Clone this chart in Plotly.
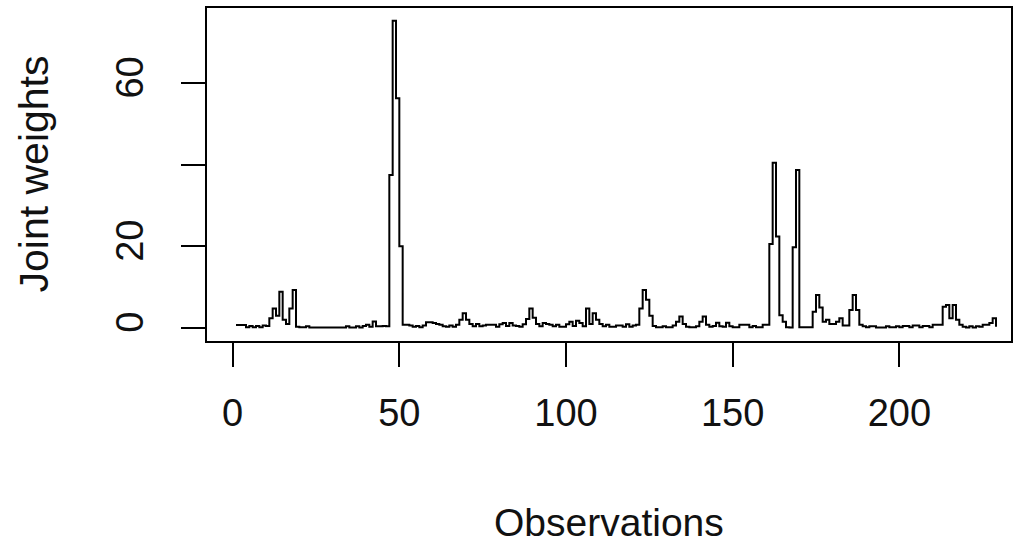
import plotly.graph_objects as go

weights = [
    0.7, 0.7, 0.7, 0.2, 0.5, 0.2, 0.5, 0.2, 0.6, 0.5,          # 1-10
    2.4, 4.8, 3.0, 8.9, 2.0, 1.0, 4.8, 9.3, 0.3, 0.2,          # 11-20
    0.2, 0.4, 0.1, 0.1, 0.1, 0.1, 0.1, 0.1, 0.1, 0.1,          # 21-30
    0.1, 0.1, 0.1, 0.4, 0.1, 0.1, 0.4, 0.1, 0.5, 0.8,          # 31-40
    0.3, 1.6, 0.4, 0.4, 0.5, 0.4, 37.5, 75.3, 56.3, 20.0,      # 41-50
    0.8, 0.8, 0.6, 0.3, 0.5, 0.2, 0.6, 1.4, 1.4, 1.2,          # 51-60
    1.0, 0.8, 0.4, 0.3, 0.6, 0.3, 0.8, 2.0, 3.6, 2.0,          # 61-70
    1.0, 0.4, 1.0, 0.4, 0.6, 0.8, 0.8, 0.8, 0.3, 0.9,          # 71-80
    1.2, 0.5, 1.2, 0.6, 0.5, 0.3, 0.9, 2.2, 4.8, 2.5,          # 81-90
    1.0, 0.4, 1.2, 1.0, 0.8, 0.4, 0.8, 0.3, 0.3, 0.9,          # 91-100
    1.5, 0.5, 1.8, 1.2, 0.4, 4.8, 1.0, 3.6, 2.0, 1.0,          # 101-110
    0.4, 0.8, 0.3, 0.3, 0.6, 0.6, 0.3, 0.9, 0.3, 0.6,          # 111-120
    0.8, 4.8, 9.3, 6.9, 3.0, 0.5, 0.2, 0.2, 0.4, 0.2,          # 121-130
    0.2, 0.6, 1.5, 2.8, 1.0, 0.3, 0.2, 0.2, 0.4, 1.5,          # 131-140
    2.8, 0.8, 0.3, 0.5, 1.3, 0.4, 0.3, 1.3, 0.4, 0.2,          # 141-150
    0.2, 0.8, 0.8, 0.8, 0.2, 0.5, 0.2, 0.2, 0.8, 0.8,          # 151-160
    20.6, 40.5, 22.4, 3.1, 1.5, 0.2, 0.1, 19.8, 38.7, 0.2,     # 161-170
    0.2, 0.2, 0.2, 4.0, 8.1, 5.0, 1.5, 2.0, 1.0, 1.0,          # 171-180
    1.5, 2.4, 0.6, 0.6, 4.4, 8.1, 4.4, 0.8, 0.4, 0.2,          # 181-190
    0.4, 0.4, 0.1, 0.1, 0.1, 0.4, 0.2, 0.2, 0.4, 0.2,          # 191-200
    0.5, 0.5, 0.2, 0.6, 0.6, 0.2, 0.5, 0.5, 0.2, 0.8,          # 201-210
    0.8, 0.8, 5.2, 5.6, 2.4, 5.6, 2.0, 0.8, 0.3, 0.1,          # 211-220
    0.4, 0.1, 0.4, 0.3, 0.8, 0.8, 1.2, 2.4, 0.3,               # 221-229
]
observations = list(range(1, len(weights) + 1))

x_ticks = [0, 50, 100, 150, 200]
y_ticks = [0, 20, 40, 60]
y_tick_labels = ["0", "20", "", "60"]

FONT = "Liberation Sans, Arial, sans-serif"
TEXT_COLOR = "#111111"

fig = go.Figure()
fig.add_trace(go.Scatter(
    x=observations, y=weights, mode="lines",
    line=dict(shape="hv", color="black", width=2),
    showlegend=False, hoverinfo="skip",
))

axis_common = dict(
    showline=True, mirror=True, linecolor="black", linewidth=1.5,
    showgrid=False, zeroline=False,
    ticks="outside", ticklen=24, tickwidth=1.5, tickcolor="black",
    tickfont=dict(family=FONT, size=38, color=TEXT_COLOR),
)

fig.update_layout(
    width=1015, height=544,
    margin=dict(l=207, r=2, t=8, b=203),
    plot_bgcolor="white", paper_bgcolor="white",
    xaxis=dict(range=[-7.7, 233.5], tickvals=x_ticks,
               ticktext=[str(v) for v in x_ticks],
               ticklabelstandoff=14, **axis_common),
    yaxis=dict(range=[-3.19, 78.4], tickvals=y_ticks, ticktext=y_tick_labels,
               tickangle=-90, ticklabelstandoff=23, **axis_common),
    annotations=[
        dict(text="Observations", xref="paper", yref="paper", x=0.5, y=0,
             xanchor="center", yanchor="middle", yshift=-181, showarrow=False,
             font=dict(family=FONT, size=39, color=TEXT_COLOR)),
        dict(text="Joint weights", xref="paper", yref="paper", x=0, y=0.5,
             xanchor="center", yanchor="middle", xshift=-174, textangle=-90,
             showarrow=False,
             font=dict(family=FONT, size=41, color=TEXT_COLOR)),
    ],
)

fig.write_html("out.html", config={"displayModeBar": False},
               post_script="document.body.style.margin='0';")
